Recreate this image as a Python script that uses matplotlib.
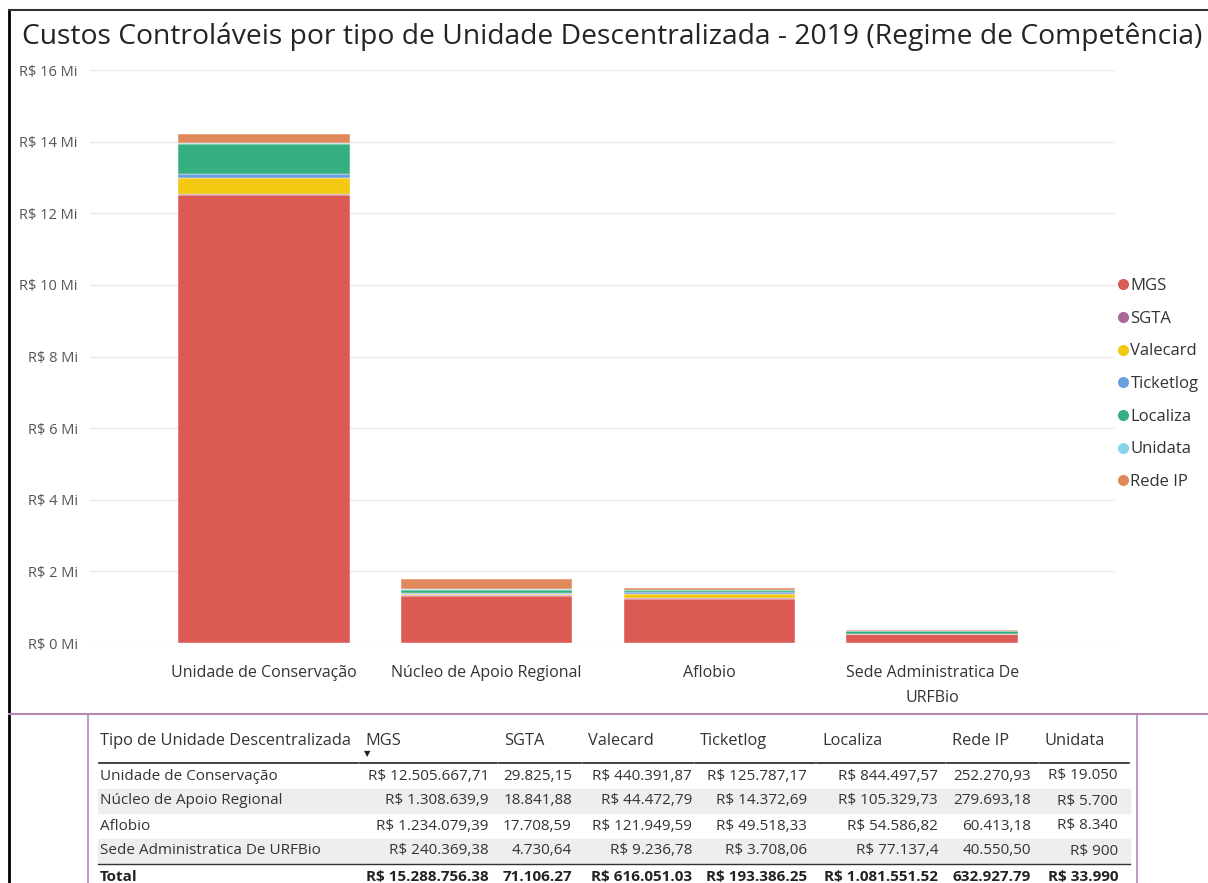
import matplotlib
matplotlib.use("Agg")
import matplotlib.pyplot as plt
from matplotlib.lines import Line2D
from matplotlib.ticker import FuncFormatter

plt.rcParams['font.family'] = ['Open Sans', 'DejaVu Sans']

# Data
categorias = ["Unidade de Conservação", "Núcleo de Apoio Regional", "Aflobio",
              "Sede Administratica De URFBio"]
rotulos_x = ["Unidade de Conservação", "Núcleo de Apoio Regional", "Aflobio",
             "Sede Administratica De\nURFBio"]
mgs = [12505667.71, 1308639.90, 1234079.39, 240369.38]
sgta = [29825.15, 18841.88, 17708.59, 4730.64]
valecard = [440391.87, 44472.79, 121949.59, 9236.78]
ticketlog = [125787.17, 14372.69, 49518.33, 3708.06]
localiza = [844497.57, 105329.73, 54586.82, 77137.40]
unidata = [19050, 5700, 8340, 900]
rede_ip = [252270.93, 279693.18, 60413.18, 40550.50]

# totals as shown in the table (MGS, SGTA, Valecard, Ticketlog, Localiza, Rede IP, Unidata)
totais = [15288756.38, 71106.27, 616051.03, 193386.25, 1081551.52, 632927.79, 33990]

# stack order (bottom -> top) and legend order
series = [
    ("MGS", mgs, "#DB5A53"),
    ("SGTA", sgta, "#A66999"),
    ("Valecard", valecard, "#F2C811"),
    ("Ticketlog", ticketlog, "#6A9FE0"),
    ("Localiza", localiza, "#35AE80"),
    ("Unidata", unidata, "#8AD4EB"),
    ("Rede IP", rede_ip, "#E0895C"),
]

# table columns: header, values, show R$ prefix
tabela = [
    ("MGS", mgs, True),
    ("SGTA", sgta, False),
    ("Valecard", valecard, True),
    ("Ticketlog", ticketlog, True),
    ("Localiza", localiza, True),
    ("Rede IP", rede_ip, False),
    ("Unidata", unidata, True),
]


def brl(v, prefixo, dec=","):
    s = f"{v:,.2f}"
    inteiro, frac = s.split(".")
    inteiro = inteiro.replace(",", ".")
    if prefixo:
        frac = frac.rstrip("0")
    txt = inteiro + (dec + frac if frac else "")
    return ("R$ " + txt) if prefixo else txt


W, H = 1208, 883
fig = plt.figure(figsize=(W / 100, H / 100), dpi=100)
fig.patch.set_facecolor("white")

ax = fig.add_axes([90 / W, 1 - 643 / H, (1115 - 90) / W, (643 - 70) / H])
x = list(range(len(categorias)))
base = [0] * len(categorias)
for nome, vals, cor in series:
    ax.bar(x, vals, bottom=base, width=0.77, color=cor, label=nome,
           edgecolor="white", linewidth=0.3, zorder=2)
    base = [b + v for b, v in zip(base, vals)]

ax.set_ylim(0, 16e6)
ax.set_xlim(-0.78, 3.82)
ax.set_yticks([i * 2e6 for i in range(9)])
ax.yaxis.set_major_formatter(FuncFormatter(lambda v, p: f"R$ {v / 1e6:.0f} Mi"))
ax.set_xticks(x)
ax.set_xticklabels(rotulos_x, fontsize=11.5, color="#333333", linespacing=1.75)
ax.tick_params(axis="y", length=0, pad=9, labelsize=10.5, labelcolor="#555555")
ax.tick_params(axis="x", length=0, pad=16)
ax.grid(axis="y", color="#EAEAEA", linewidth=1, zorder=0)
for s in ax.spines.values():
    s.set_visible(False)

handles = [Line2D([0], [0], marker="o", color="w", markerfacecolor=c,
                  markersize=9, linewidth=0) for _, _, c in series]
leg = ax.legend(handles, [n for n, _, _ in series], loc="upper left",
                bbox_to_anchor=(1118 / W, 1 - 278 / H),
                bbox_transform=fig.transFigure, frameon=False, fontsize=12,
                handlelength=0.6, handletextpad=0.15, labelspacing=1.0,
                borderpad=0, borderaxespad=0)
for t in leg.get_texts():
    t.set_color("#333333")

fig.text(22 / W, 1 - 37 / H,
         "Custos Controláveis por tipo de Unidade Descentralizada - 2019 (Regime de Competência)",
         fontsize=20.3, color="#252423", va="center", ha="left")

# frame lines
fig.add_artist(Line2D([9 / W, 9 / W], [0, 1 - 10 / H], color="black", linewidth=2))
fig.add_artist(Line2D([9 / W, 1], [1 - 10 / H, 1 - 10 / H], color="#333333", linewidth=1.5))
fig.add_artist(Line2D([9 / W, 1], [1 - 714 / H, 1 - 714 / H], color="#B48AB4", linewidth=1.5))
fig.add_artist(Line2D([88 / W, 88 / W], [0, 1 - 714 / H], color="#B48AB4", linewidth=1.2))
fig.add_artist(Line2D([1137 / W, 1137 / W], [0, 1 - 714 / H], color="#B48AB4", linewidth=1.2))

# table
tab = fig.add_axes([88 / W, 0, (1137 - 88) / W, (883 - 714) / H])
tab.set_xlim(88, 1137)
tab.set_ylim(883, 714)
tab.axis("off")

col_esq = [100, 365, 504, 588, 700, 822, 952, 1045]
col_dir = [None, 489, 572, 692, 807, 938, 1031, 1118]
lin_y = [776, 801, 826, 851]
fs = 11
fs_h = 11.8
tab.text(col_esq[0], 741, "Tipo de Unidade Descentralizada", fontsize=fs_h,
         color="#333333", va="center")
for j, (nome, vals, pref) in enumerate(tabela, start=1):
    tab.text(col_esq[j], 741, nome, fontsize=fs_h, color="#333333", va="center")
tab.text(col_esq[1] - 1, 755, "▼", fontsize=6, color="#222222", va="center")
seps = [98] + [c - 6 for c in col_esq[1:]] + [1130]
for a, b in zip(seps[:-1], seps[1:]):
    tab.plot([a + 1, b - 1], [763, 763], color="#222222", linewidth=1.2)
for i, cat in enumerate(categorias):
    if i % 2 == 1:
        tab.axhspan(lin_y[i] - 12, lin_y[i] + 12, xmin=(98 - 88) / 1049,
                    xmax=(1130 - 88) / 1049, color="#EEEEEE", zorder=0)
    tab.text(col_esq[0], lin_y[i], cat, fontsize=fs, color="#333333", va="center")
    for j, (nome, vals, pref) in enumerate(tabela, start=1):
        tab.text(col_dir[j], lin_y[i], brl(vals[i], pref), fontsize=fs,
                 color="#333333", va="center", ha="right")
tab.plot([98, 1130], [864, 864], color="#333333", linewidth=1)
tab.text(col_esq[0], 877, "Total", fontsize=fs, color="#222222", va="center",
         fontweight="bold")
for j, (nome, vals, pref) in enumerate(tabela, start=1):
    tab.text(col_dir[j], 877, brl(totais[j - 1], pref, dec="."), fontsize=fs,
             color="#222222", va="center", ha="right", fontweight="bold")

fig.savefig("out.png", dpi=100)
